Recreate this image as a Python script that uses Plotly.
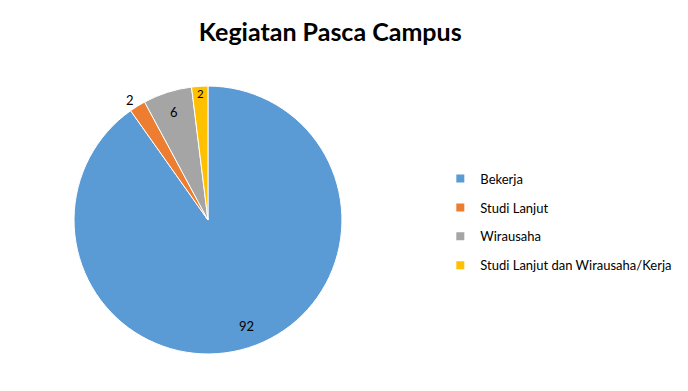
import plotly.graph_objects as go

labels = ["Bekerja", "Studi Lanjut", "Wirausaha", "Studi Lanjut dan Wirausaha/Kerja"]
values = [92, 2, 6, 2]
colors = ["#5B9BD5", "#ED7D31", "#A5A5A5", "#FFC000"]
text_pos = ["inside", "outside", "inside", "inside"]
pad = "&nbsp;" * 11
text_tpl = ["&nbsp;<br>" * 5 + pad + "%{value}", "%{value}", "%{value}", "%{value}"]

fig = go.Figure()
fig.add_trace(go.Pie(
    labels=labels, values=values, sort=False, direction="clockwise", rotation=0,
    marker=dict(colors=colors, line=dict(color="white", width=1)),
    texttemplate=text_tpl, textposition=text_pos, insidetextorientation="horizontal",
    textfont=dict(family="Lato", size=13, color="#000000"),
    outsidetextfont=dict(family="Lato", size=13, color="#000000"),
    showlegend=False, hoverinfo="label+value",
    domain=dict(x=[0.1076, 0.497], y=[0.0946, 0.780]),
))
for lab, col in zip(labels, colors):
    fig.add_trace(go.Scatter(
        x=[None], y=[None], mode="markers", name=lab, legendgroup=lab,
        marker=dict(symbol="square", size=8, color=col),
    ))

fig.update_layout(
    width=688, height=391, margin=dict(l=0, r=0, t=0, b=0),
    paper_bgcolor="white", plot_bgcolor="white",
    title=dict(text="<b>Kegiatan Pasca Campus</b>", x=0.48, xanchor="center", y=0.918, yanchor="middle",
               font=dict(family="Lato", size=25, color="#000000")),
    xaxis=dict(visible=False), yaxis=dict(visible=False),
    legend=dict(x=0.64, xanchor="left", y=0.432, yanchor="middle", tracegroupgap=9,
                font=dict(family="Lato", size=13, color="#000000"), bgcolor="rgba(0,0,0,0)"),
)
fig.write_html("out.html")
